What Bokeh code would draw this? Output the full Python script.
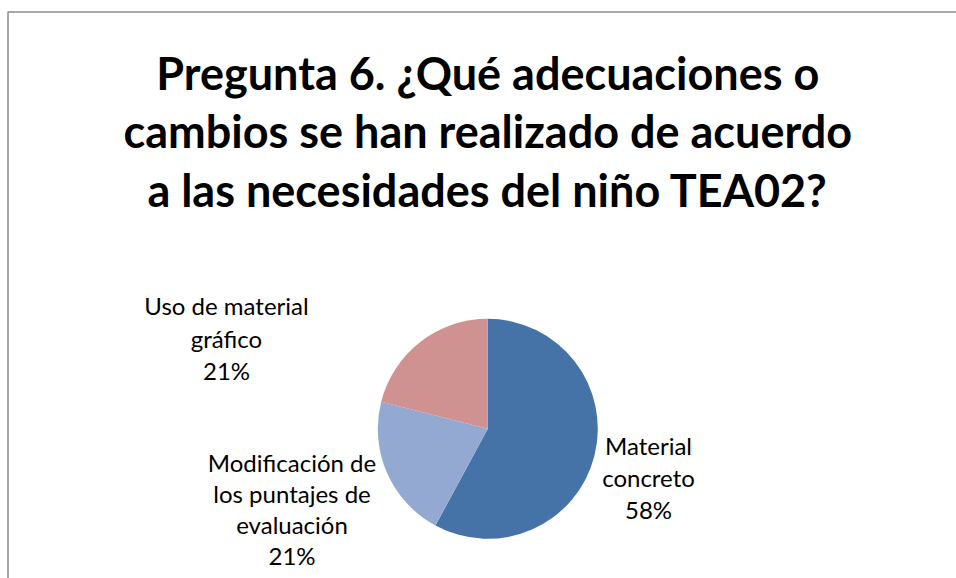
import math
from bokeh.plotting import figure
from bokeh.models import Range1d, ColumnDataSource
from bokeh.core.properties import value
from bokeh.embed import file_html
from bokeh.resources import INLINE

# ---- data ----
title_lines = ["Pregunta 6. ¿Qué adecuaciones o",
               "cambios se han realizado de acuerdo",
               "a las necesidades del niño TEA02?"]
categories = ["Material concreto",
              "Modificación de los puntajes de evaluación",
              "Uso de material gráfico"]
counts = [11, 4, 4]
label_lines = [["Material", "concreto"],
               ["Modificación de", "los puntajes de", "evaluación"],
               ["Uso de material", "gráfico"]]
colors = ["#4673A7", "#94A9D2", "#D09291"]

# ---- layout (pixels, canvas units; y up) ----
W, H = 956, 578
CX, CY, R = 487.3, H - 428.3, 110
label_offsets = [(160.7, -16.7), (-195.8, -33.7), (-261.3, 123.3)]  # first-line centre rel. to pie centre
label_step = [32, 31, 32.5]
TITLE_FONT = "Lato"
LABEL_FONT = "Lato"

p = figure(width=W, height=H, x_range=Range1d(0, W), y_range=Range1d(0, H),
           output_backend="svg", toolbar_location=None, min_border=0)
p.axis.visible = False
p.grid.visible = False
p.outline_line_color = None
p.background_fill_color = "white"
p.border_fill_color = "white"

# chart frame (top and left edges visible)
p.line(x=[7.5, 7.5, W], y=[0, H - 11.5, H - 11.5], line_color="#8a8a8a", line_width=1.5)

# pie
total = sum(counts)
cum = [0]
for c in counts:
    cum.append(cum[-1] + c)
starts = [math.pi / 2 - 2 * math.pi * cum[i] / total for i in range(len(counts))]
ends = [math.pi / 2 - 2 * math.pi * cum[i + 1] / total for i in range(len(counts))]
src = ColumnDataSource(dict(cat=categories, start=starts, end=ends, color=colors,
                            x=[CX] * len(counts), y=[CY] * len(counts)))
p.wedge(x="x", y="y", radius=R, start_angle="start", end_angle="end", direction="clock",
        fill_color="color", line_color=None, source=src)

# title
ty0 = H - 72
for i, t in enumerate(title_lines):
    p.text(x=[CX], y=[ty0 - 58.5 * i], text=[t], text_font=value(TITLE_FONT),
           text_font_style="bold", text_font_size="45px", text_align="center",
           text_baseline="middle", text_color="black")

# labels
for k, lines in enumerate(label_lines):
    pct = f"{round(100 * counts[k] / total)}%"
    all_lines = lines + [pct]
    ox, oy = label_offsets[k]
    for j, t in enumerate(all_lines):
        p.text(x=[CX + ox], y=[CY + oy - label_step[k] * j], text=[t], text_font=value(LABEL_FONT),
               text_font_size="24px", text_align="center", text_baseline="middle",
               text_color="black")

open("out.html", "w").write(file_html(p, INLINE))
